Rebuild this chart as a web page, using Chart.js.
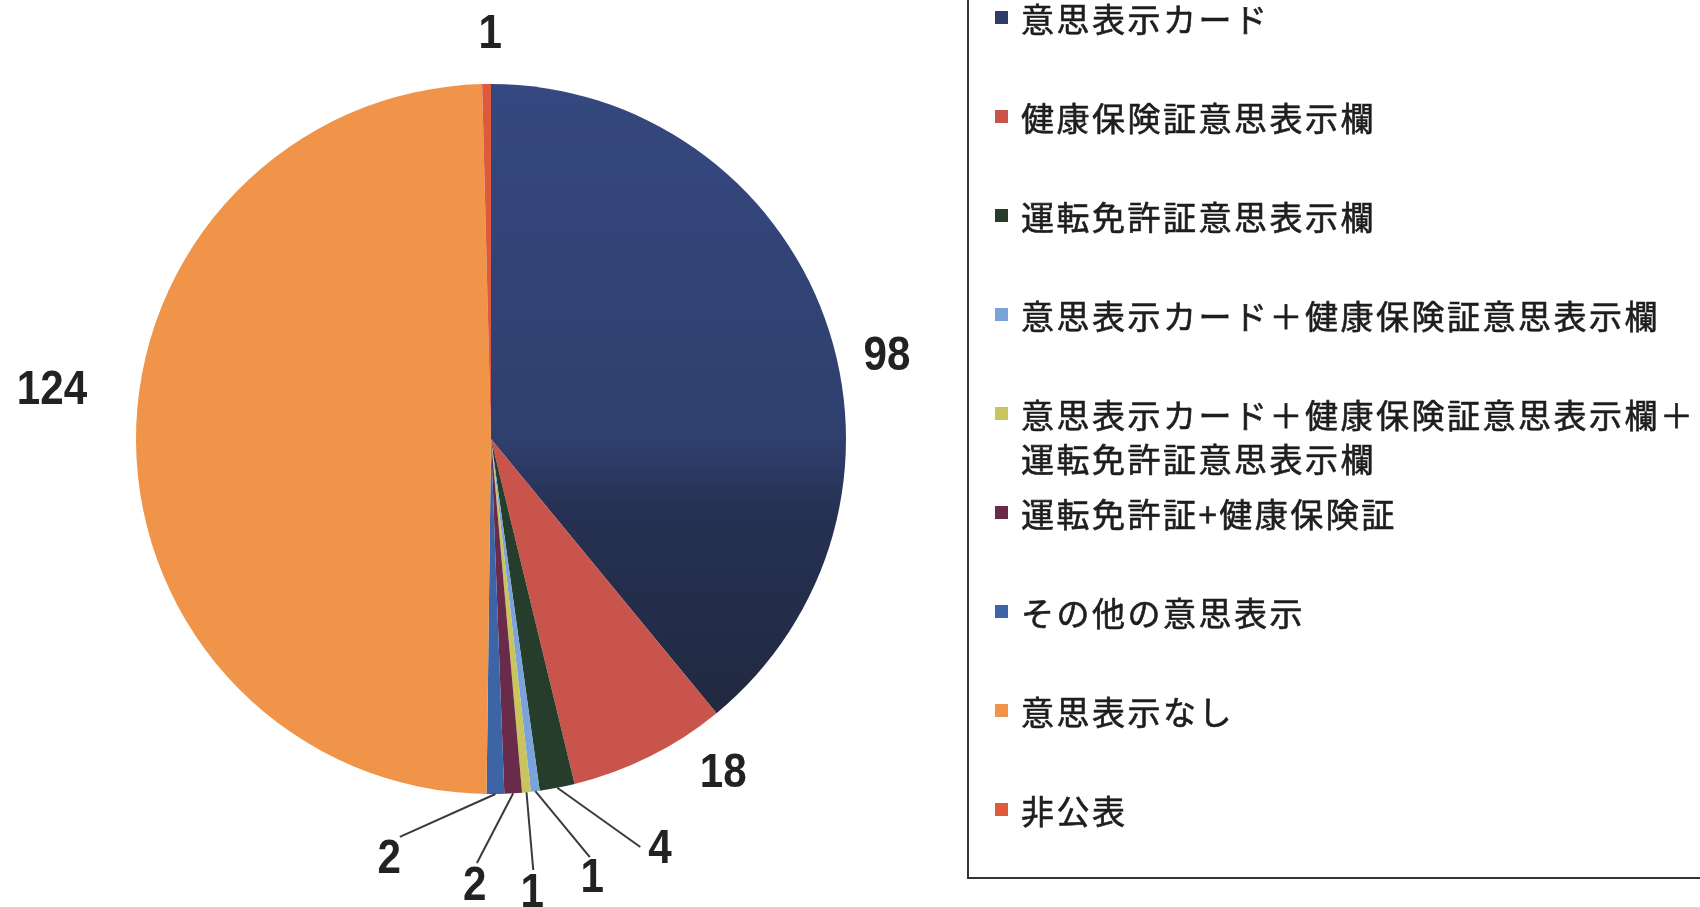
<!DOCTYPE html>
<html lang="ja">
<head>
<meta charset="utf-8">
<title>意思表示の内訳</title>
<script src="https://cdn.jsdelivr.net/npm/chart.js@4.4.1/dist/chart.umd.min.js"></script>
<style>
  html, body { margin: 0; padding: 0; background: #fff; }
  body { width: 1700px; height: 907px; position: relative; overflow: hidden;
         font-family: "Noto Sans CJK JP", sans-serif; }
  #pieBox { position: absolute; left: 0; top: 0; width: 982px; height: 907px; }
  #legend { position: absolute; left: 967px; top: -4px; width: 800px; height: 883px;
            border: 2px solid #333; box-sizing: border-box; }
  .item { position: absolute; left: 52px; font-size: 33px; line-height: 44px;
          letter-spacing: 2.5px; color: #1e1e1e; white-space: nowrap;
          -webkit-text-stroke: 0.6px #1e1e1e; }
  .item i { position: absolute; left: -26px; top: 15px; width: 13px; height: 13px; }
</style>
</head>
<body>
<div id="pieBox"><canvas id="pie"></canvas></div>
<div id="legend"></div>

<script>
const categories = [
  '意思表示カード',
  '健康保険証意思表示欄',
  '運転免許証意思表示欄',
  '意思表示カード＋健康保険証意思表示欄',
  ['意思表示カード＋健康保険証意思表示欄＋', '運転免許証意思表示欄'],
  '運転免許証+健康保険証',
  'その他の意思表示',
  '意思表示なし',
  '非公表'
];
const counts = [98, 18, 4, 1, 1, 2, 2, 124, 1];
const sliceColors = ['#2E3D68', '#C8544C', '#263D2B', '#79A3DA', '#C9C45C',
                     '#6A2A4A', '#3D64A6', '#EF9448', '#DE5A3C'];

// value label spots: [degrees clockwise from 12 o'clock, distance in radii]
const labelAt = [
  [77.9, 1.141], [145.1, 1.143], [157.5, 1.244], [167.0, 1.266], [174.8, 1.281],
  [182.1, 1.257], [193.7, 1.212], [276.6, 1.245], [359.9, 1.146]
];
// thin slices get a leader line out to these spots
const leaderTo = [null, null, [159.9, 1.224], [166.7, 1.210], [174.4, 1.220],
                  [181.9, 1.195], [192.9, 1.150], null, null];

// the big navy slice fades darker towards the bottom
function sliceFill(c) {
  const area = c.chart.chartArea;
  if (c.dataIndex !== 0 || !area) return sliceColors[c.dataIndex];
  const g = c.chart.ctx.createLinearGradient(0, area.top, 0, area.bottom);
  g.addColorStop(0, '#35487F');
  g.addColorStop(0.5, '#2F3F6E');
  g.addColorStop(0.6, '#263153');
  g.addColorStop(1, '#1F2638');
  return g;
}

const valueLabels = {
  id: 'valueLabels',
  afterDatasetsDraw(chart) {
    const ctx = chart.ctx;
    const arcs = chart.getDatasetMeta(0).data;
    const cx = arcs[0].x, cy = arcs[0].y, r = arcs[0].outerRadius;
    const pt = (deg, k) => {
      const a = deg * Math.PI / 180;
      return [cx + Math.sin(a) * r * k, cy - Math.cos(a) * r * k];
    };
    ctx.save();
    ctx.strokeStyle = '#3a3a3a';
    ctx.lineWidth = 2;
    arcs.forEach((arc, i) => {
      if (!leaderTo[i]) return;
      const mid = (arc.startAngle + arc.endAngle) / 2;
      const [x1, y1] = pt(...leaderTo[i]);
      ctx.beginPath();
      ctx.moveTo(cx + Math.cos(mid) * r, cy + Math.sin(mid) * r);
      ctx.lineTo(x1, y1);
      ctx.stroke();
    });
    ctx.fillStyle = '#222';
    ctx.font = 'bold 49px "Liberation Sans", Arial, sans-serif';
    ctx.textAlign = 'center';
    ctx.textBaseline = 'middle';
    counts.forEach((v, i) => {
      const [x, y] = pt(...labelAt[i]);
      ctx.save();
      ctx.translate(x, y);
      ctx.scale(0.86, 1);
      ctx.fillText(String(v), 0, 2);
      ctx.restore();
    });
    ctx.restore();
  }
};

new Chart(document.getElementById('pie'), {
  type: 'pie',
  data: {
    labels: categories,
    datasets: [{
      data: counts,
      backgroundColor: sliceFill,
      borderWidth: 0,
      hoverOffset: 0
    }]
  },
  options: {
    responsive: true,
    maintainAspectRatio: false,
    animation: false,
    layout: { padding: { top: 84, bottom: 113, left: 84, right: 84 } },
    plugins: {
      legend: { display: false },
      tooltip: { enabled: false }
    }
  },
  plugins: [valueLabels]
});

// legend on the right, one row every 99px
const legend = document.getElementById('legend');
categories.forEach((name, i) => {
  const row = document.createElement('div');
  row.className = 'item';
  row.style.top = (18 + i * 99 - 22 + 2) + 'px';
  const box = document.createElement('i');
  box.style.background = sliceColors[i];
  row.appendChild(box);
  const lines = Array.isArray(name) ? name : [name];
  lines.forEach((t, k) => {
    if (k) row.appendChild(document.createElement('br'));
    row.appendChild(document.createTextNode(t));
  });
  legend.appendChild(row);
});
</script>
</body>
</html>
